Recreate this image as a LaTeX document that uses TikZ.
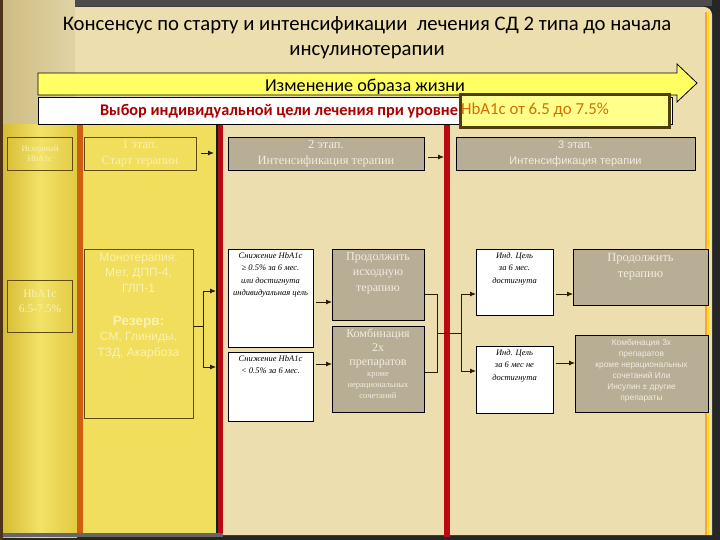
\documentclass[tikz,border=0pt]{standalone}
\usepackage{fontspec}
\setmainfont{Liberation Serif}
\setsansfont{Liberation Sans}
\newfontfamily\calfont{Carlito}
\usetikzlibrary{arrows.meta}
\definecolor{parch}{RGB}{236,222,174}
\definecolor{curl}{RGB}{205,188,128}
\definecolor{panel}{RGB}{240,222,92}
\definecolor{colL}{RGB}{214,188,52}
\definecolor{colM}{RGB}{242,226,104}
\definecolor{colR}{RGB}{226,202,66}
\definecolor{obar}{RGB}{205,95,15}
\definecolor{rbar}{RGB}{185,10,20}
\definecolor{gfill}{RGB}{184,174,150}
\definecolor{gtext}{RGB}{242,236,224}
\definecolor{ytext}{RGB}{250,242,176}
\definecolor{yline}{RGB}{95,75,10}
\definecolor{arrowy}{RGB}{255,255,100}
\definecolor{hbfill}{RGB}{255,255,140}
\definecolor{hbline}{RGB}{78,62,12}
\definecolor{hbtext}{RGB}{212,110,0}
\definecolor{redtext}{RGB}{170,0,0}
\definecolor{connc}{RGB}{40,30,0}
\tikzset{
  ybox/.style={draw=yline, line width=0.7pt, inner sep=0pt, anchor=north west},
  gbox/.style={draw=black, fill=gfill, line width=0.8pt, inner sep=0pt, anchor=north west},
  wbox/.style={draw=black, fill=white, line width=0.8pt, inner sep=0pt, anchor=north west},
  ytxt/.style={text=ytext, align=center, inner sep=0pt},
  gtxt/.style={text=gtext, align=center, inner sep=0pt},
  wtxt/.style={text=black, align=center, inner sep=0pt, font=\itshape\fontsize{8.5}{12.5}\selectfont},
  conn/.style={draw=connc, line width=0.8pt, -{Latex[length=6pt,width=5pt]}},
  link/.style={draw=connc, line width=0.8pt}
}
\begin{document}
\begin{tikzpicture}[x=1pt,y=-1pt]
\useasboundingbox (0,0) rectangle (720,540);
% frame and page
\fill[black!85] (0,0) rectangle (720,540);
\fill[parch] (0,7) -- (704,7) to[out=0,in=90] (712,15) -- (712,535) -- (0,535) -- cycle;
\shade[left color=curl, right color=parch!95!black] (0,0) rectangle (75,128);
\fill[black!70] (75,0) rectangle (712,6);
\fill[orange!75] (705,12) rectangle (706.5,535);
\fill[yellow!80!orange] (707.5,12) rectangle (709,535);
% columns
\shade[left color=colL, right color=colR, middle color=colM] (3,125) rectangle (77,537);
\fill[obar] (77,125) rectangle (83,537);
\fill[panel] (83,125) rectangle (217,537);
\fill[black!60!green!40!black] (216,125) rectangle (218,537);
\fill[rbar] (218,125) rectangle (223,537);
\fill[rbar] (444,125) rectangle (450,537);
\fill[black!60] (3,533) rectangle (223,537);
\fill[brown!40!black] (0,0) rectangle (3,540);
% title
\node[font=\calfont\fontsize{20.7}{25}\selectfont, align=center, inner sep=0pt] (title) at (367,38)
  {Консенсус по старту и интенсификации \ лечения СД 2 типа до начала\\инсулинотерапии};
% big arrow
\draw[fill=arrowy, line width=0.8pt] (38,73) -- (677,73) -- (677,64) -- (697,83) -- (677,102) -- (677,95) -- (38,95) -- cycle;
\node[font=\calfont\fontsize{18.2}{20}\selectfont, inner sep=0pt] (life) at (365,87) {Изменение образа жизни};
% target band
\node[draw=black, fill=white, line width=0.8pt, minimum width=634pt, minimum height=27pt, anchor=north west, inner sep=0pt] (band) at (38,97) {};
\node[font=\calfont\bfseries\fontsize{16.3}{18}\selectfont, text=redtext, inner sep=0pt] (bandtxt) at (279,111) {Выбор индивидуальной цели лечения при уровне};
\node[draw=hbline, line width=3pt, fill=hbfill, minimum width=209pt, minimum height=33pt, anchor=north west, inner sep=0pt] (hb) at (459,93) {};
\node[font=\calfont\fontsize{16.8}{18}\selectfont, text=hbtext, inner sep=0pt, anchor=west] (hbtxt) at (461,110) {HbA1c от 6.5 до 7.5\%};
% left column boxes
\node[ybox, minimum width=65pt, minimum height=33pt] (isx) at (7,137) {};
\node[ytxt, font=\fontsize{8.5}{10}\selectfont] (isxt) at (40,153.5) {Исходный\\HbA1c};
\node[ybox, minimum width=65pt, minimum height=52pt] (hba) at (7,280) {};
\node[ytxt, font=\fontsize{11.5}{15}\selectfont] (hbat) at (40,301) {HbA1c\\6.5-7.5\%};
% stage 1
\node[ybox, minimum width=112pt, minimum height=33pt] (s1) at (84,137) {};
\node[ytxt, font=\fontsize{12.5}{16}\selectfont] (s1t) at (140,154) {1 этап.\\Старт терапии};
\node[ybox, minimum width=109pt, minimum height=169pt] (mono) at (84,249) {};
\node[ytxt, font=\sffamily\fontsize{12}{15.5}\selectfont, anchor=north] (monot) at (138.5,253) {Монотерапия:\\Мет, ДПП-4,\\ГЛП-1};
\node[ytxt, font=\sffamily\bfseries\fontsize{13.5}{16}\selectfont] (rezt) at (138.5,322) {Резерв:};
\node[ytxt, font=\sffamily\fontsize{12}{15.5}\selectfont, anchor=north] (rez2t) at (138.5,332) {СМ, Глиниды,\\ТЗД, Акарбоза};
% stage 2
\node[gbox, minimum width=196pt, minimum height=33pt] (s2) at (228,137) {};
\node[gtxt, font=\fontsize{12.5}{16}\selectfont] (s2t) at (326,154) {2 этап.\\Интенсификация терапии};
\node[wbox, minimum width=85pt, minimum height=98pt] (wa) at (228,249) {};
\node[wtxt, anchor=north] (wat) at (270.5,252) {Снижение HbA1c\\ ≥ 0.5\% за 6 мес.\\или достигнута\\индивидуальная цель};
\node[wbox, minimum width=85pt, minimum height=69pt] (wb) at (228,352) {};
\node[wtxt, anchor=north] (wbt) at (270.5,355) {Снижение HbA1c\\< 0.5\% за 6 мес.};
\node[gbox, minimum width=92pt, minimum height=71pt] (prod) at (332,249) {};
\node[gtxt, font=\fontsize{12}{15.5}\selectfont, anchor=north] (prodt) at (378,252) {Продолжить\\исходную\\терапию};
\node[gbox, minimum width=92pt, minimum height=86pt] (komb2) at (332,326) {};
\node[gtxt, font=\fontsize{12}{14}\selectfont, anchor=north] (komb2t) at (378,329) {Комбинация\\2х\\препаратов};
\node[gtxt, font=\fontsize{8.5}{11}\selectfont, anchor=north] (komb2s) at (378,372) {кроме\\нерациональных\\сочетаний};
% stage 3
\node[gbox, minimum width=239pt, minimum height=33pt] (s3) at (456,137) {};
\node[gtxt, font=\sffamily\fontsize{11}{16}\selectfont] (s3t) at (575.5,154) {3 этап.\\Интенсификация терапии};
\node[wbox, minimum width=77pt, minimum height=66pt] (wc) at (476,249) {};
\node[wtxt, anchor=north] (wct) at (514.5,252) {Инд. Цель\\за 6 мес.\\достигнута};
\node[wbox, minimum width=77pt, minimum height=67pt] (wd) at (476,346) {};
\node[wtxt, anchor=north] (wdt) at (514.5,349) {Инд. Цель\\за 6 мес не\\достигнута};
\node[gbox, minimum width=135pt, minimum height=56pt] (prod3) at (573,249) {};
\node[gtxt, font=\fontsize{12.5}{16}\selectfont, anchor=north] (prod3t) at (640.5,253) {Продолжить\\терапию};
\node[gbox, minimum width=133pt, minimum height=77pt] (komb3) at (575,335) {};
\node[gtxt, font=\sffamily\fontsize{8.4}{11}\selectfont, anchor=north] (komb3t) at (641.5,339) {Комбинация 3х\\препаратов\\кроме нерациональных\\сочетаний Или\\Инсулин ± другие\\препараты};
% connectors
\coordinate (e1) at (214,153);
\draw[conn] ([xshift=4pt]s1.east |- e1) -- (e1);
\coordinate (j1) at (203,326);
\coordinate (m1) at (216,291);
\coordinate (m2) at (216,367);
\draw[link] (mono.east |- j1) -- (j1);
\draw[conn] (j1) |- (m1);
\draw[conn] (j1) |- (m2);
\coordinate (e2) at (444,157);
\draw[conn] ([xshift=3pt]s2.east |- e2) -- (e2);
\coordinate (a1) at (316,302);
\draw[conn] (a1) -- (prod.west |- a1);
\coordinate (a2) at (316,364);
\draw[conn] (a2) -- (komb2.west |- a2);
\coordinate (k1) at (437,294);
\coordinate (k2) at (437,372);
\coordinate (k3) at (437,333);
\coordinate (k4) at (461,333);
\draw[link] (prod.east |- k1) -- (k1) -- (k2) -- (komb2.east |- k2);
\draw[link] (k3) -- (k4);
\coordinate (n1) at (461,294);
\coordinate (n2) at (461,371);
\draw[link] (n1) -- (n2);
\draw[conn] (n1) -- (wc.west |- n1);
\draw[conn] (n2) -- (wd.west |- n2);
\coordinate (c1) at (556,294);
\draw[conn] (c1) -- (prod3.west |- c1);
\coordinate (c2) at (556,363);
\draw[conn] (c2) -- (komb3.west |- c2);
\end{tikzpicture}
\end{document}
